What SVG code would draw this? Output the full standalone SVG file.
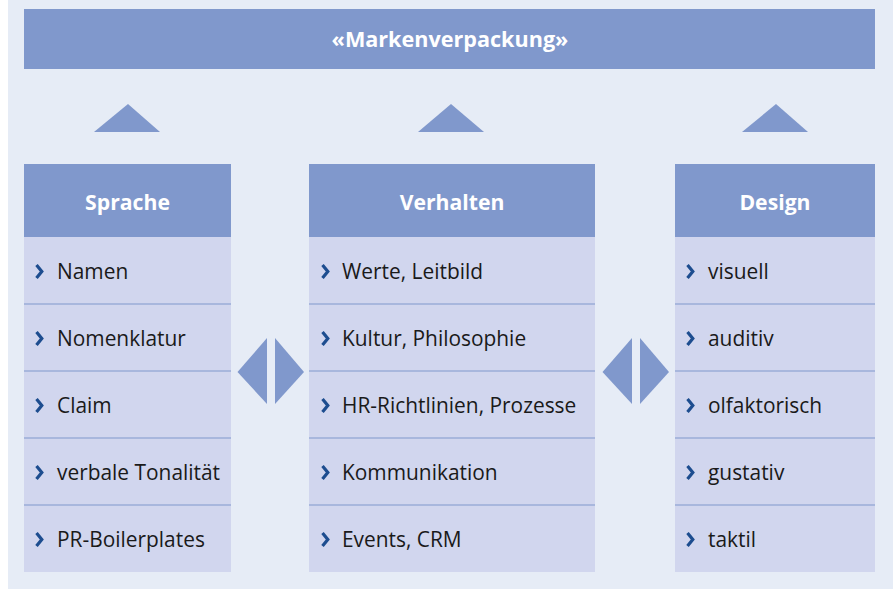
<svg xmlns="http://www.w3.org/2000/svg" xmlns:xlink="http://www.w3.org/1999/xlink" width="893" height="589" viewBox="0 0 893 589">
  <style>
    .panel { fill: #e6ecf6; }
    .head { fill: #8098cc; }
    .row { fill: #d1d6ee; }
    .sep { stroke: #8098cc; stroke-width: 1.2; }
    .shape { fill: #8098cc; }
    .htxt { font-family: "Open Sans", "Noto Sans", sans-serif; font-weight: bold; font-size: 21.2px; fill: #ffffff; text-anchor: middle; }
    .btxt { font-size: 21.6px; }
    .itxt { font-family: "Open Sans", "Noto Sans", sans-serif; font-size: 20.9px; fill: #1a1a1a; }
  </style>
  <defs>
    <path id="chev" d="M0.5 0 L5.8 6.5 L0.5 13" fill="none" stroke="#1d4d8f" stroke-width="3.2" stroke-linejoin="miter"/>
  </defs>

  <rect class="panel" x="8" y="0" width="885" height="589"/>

  <!-- top banner -->
  <g id="banner">
    <rect class="head" x="24" y="9" width="851" height="60"/>
    <text class="htxt btxt" x="450" y="47">«Markenverpackung»</text>
  </g>

  <!-- arrows: upward triangles and double diamonds -->
  <g id="connectors">
    <polygon class="shape" points="94,132 128,104 160,132"/>
    <polygon class="shape" points="418,132 451,104 484,132"/>
    <polygon class="shape" points="742,132 776,104 808,132"/>
    <polygon class="shape" points="237.5,372 267,338 267,404"/>
    <polygon class="shape" points="275,338 275,404 304,372"/>
    <polygon class="shape" points="602.5,372 632,338 632,404"/>
    <polygon class="shape" points="640,338 640,404 669,372"/>
  </g>

  <g id="sprache">
    <rect class="head" x="24" y="164" width="207" height="73"/>
    <text class="htxt" x="127.5" y="210">Sprache</text>
    <rect class="row" x="24" y="237" width="207" height="335"/>
    <line class="sep" x1="24" y1="304" x2="231" y2="304"/>
    <line class="sep" x1="24" y1="371" x2="231" y2="371"/>
    <line class="sep" x1="24" y1="438" x2="231" y2="438"/>
    <line class="sep" x1="24" y1="505" x2="231" y2="505"/>
    <use xlink:href="#chev" x="36" y="265"/>
    <use xlink:href="#chev" x="36" y="332"/>
    <use xlink:href="#chev" x="36" y="399"/>
    <use xlink:href="#chev" x="36" y="466"/>
    <use xlink:href="#chev" x="36" y="533"/>
    <text class="itxt" x="57" y="279">Namen</text>
    <text class="itxt" x="57" y="346">Nomenklatur</text>
    <text class="itxt" x="57" y="413">Claim</text>
    <text class="itxt" x="57" y="480">verbale Tonalität</text>
    <text class="itxt" x="57" y="547">PR-Boilerplates</text>
  </g>

  <g id="verhalten">
    <rect class="head" x="309" y="164" width="286" height="73"/>
    <text class="htxt" x="452" y="210">Verhalten</text>
    <rect class="row" x="309" y="237" width="286" height="335"/>
    <line class="sep" x1="309" y1="304" x2="595" y2="304"/>
    <line class="sep" x1="309" y1="371" x2="595" y2="371"/>
    <line class="sep" x1="309" y1="438" x2="595" y2="438"/>
    <line class="sep" x1="309" y1="505" x2="595" y2="505"/>
    <use xlink:href="#chev" x="322" y="265"/>
    <use xlink:href="#chev" x="322" y="332"/>
    <use xlink:href="#chev" x="322" y="399"/>
    <use xlink:href="#chev" x="322" y="466"/>
    <use xlink:href="#chev" x="322" y="533"/>
    <text class="itxt" x="342" y="279">Werte, Leitbild</text>
    <text class="itxt" x="342" y="346">Kultur, Philosophie</text>
    <text class="itxt" x="342" y="413">HR-Richtlinien, Prozesse</text>
    <text class="itxt" x="342" y="480">Kommunikation</text>
    <text class="itxt" x="342" y="547">Events, CRM</text>
  </g>

  <g id="design">
    <rect class="head" x="675" y="164" width="200" height="73"/>
    <text class="htxt" x="775" y="210">Design</text>
    <rect class="row" x="675" y="237" width="200" height="335"/>
    <line class="sep" x1="675" y1="304" x2="875" y2="304"/>
    <line class="sep" x1="675" y1="371" x2="875" y2="371"/>
    <line class="sep" x1="675" y1="438" x2="875" y2="438"/>
    <line class="sep" x1="675" y1="505" x2="875" y2="505"/>
    <use xlink:href="#chev" x="687" y="265"/>
    <use xlink:href="#chev" x="687" y="332"/>
    <use xlink:href="#chev" x="687" y="399"/>
    <use xlink:href="#chev" x="687" y="466"/>
    <use xlink:href="#chev" x="687" y="533"/>
    <text class="itxt" x="708" y="279">visuell</text>
    <text class="itxt" x="708" y="346">auditiv</text>
    <text class="itxt" x="708" y="413">olfaktorisch</text>
    <text class="itxt" x="708" y="480">gustativ</text>
    <text class="itxt" x="708" y="547">taktil</text>
  </g>
</svg>
